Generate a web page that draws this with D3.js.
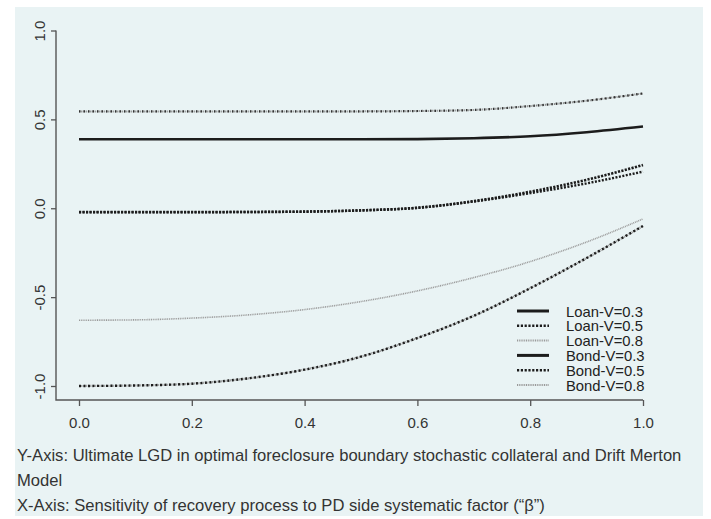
<!DOCTYPE html>
<html>
<head>
<meta charset="utf-8">
<script src="https://cdn.jsdelivr.net/npm/d3@7"></script>
<style>
  body { margin: 0; background: #fff; }
  svg { display: block; }
  text { font-family: "Liberation Sans", Arial, sans-serif; }
</style>
</head>
<body>
<svg id="chart"></svg>
<script>
// sensitivity beta on the x axis
const betas = [0, 0.1, 0.2, 0.3, 0.4, 0.5, 0.6, 0.7, 0.8, 0.9, 1.0];

const seriesNames = ['Loan-V=0.3', 'Loan-V=0.5', 'Loan-V=0.8', 'Bond-V=0.3', 'Bond-V=0.5', 'Bond-V=0.8'];

const loanV03 = [0.388, 0.388, 0.388, 0.388, 0.388, 0.388, 0.389, 0.394, 0.405, 0.428, 0.460];
const loanV05 = [-0.022, -0.022, -0.022, -0.021, -0.019, -0.012, 0.003, 0.040, 0.093, 0.160, 0.243];
const loanV08 = [-0.630, -0.628, -0.618, -0.600, -0.570, -0.525, -0.465, -0.390, -0.300, -0.190, -0.060];
const bondV03 = [-1.000, -0.997, -0.987, -0.957, -0.908, -0.835, -0.730, -0.605, -0.450, -0.280, -0.100];
const bondV05 = [-0.022, -0.022, -0.022, -0.021, -0.019, -0.012, 0.002, 0.038, 0.085, 0.140, 0.206];
const bondV08 = [0.545, 0.545, 0.545, 0.545, 0.545, 0.545, 0.547, 0.553, 0.575, 0.605, 0.646];

const xTicks = [0, 0.2, 0.4, 0.6, 0.8, 1.0];
const yTicks = [-1.0, -0.5, 0.0, 0.5, 1.0];

const captionLines = [
  'Y-Axis: Ultimate LGD in optimal foreclosure boundary stochastic collateral and Drift Merton',
  'Model',
  'X-Axis: Sensitivity of recovery process to PD side systematic factor (\u201c\u03b2\u201d)'
];

const values = [loanV03, loanV05, loanV08, bondV03, bondV05, bondV08];
const series = seriesNames.map((name, i) => ({
  name: name,
  points: betas.map((b, j) => ({x: b, y: values[i][j]}))
}));

// how each curve looks on the plot (some overlap in the original, giving a mixed dot look)
const curveStyle = {
  'Loan-V=0.3': [{stroke: '#1c1c1c', width: 2.6, dash: null}],
  'Loan-V=0.5': [{stroke: '#1c1c1c', width: 2.6, dash: '2.2,1.3'}],
  'Loan-V=0.8': [{stroke: '#9a9a9a', width: 1.6, dash: '1,0.8'}],
  'Bond-V=0.3': [{stroke: '#9a9a9a', width: 2.2, dash: '1,0.8'}, {stroke: '#1c1c1c', width: 2.4, dash: '2,2.5'}],
  'Bond-V=0.5': [{stroke: '#1c1c1c', width: 2.4, dash: '2,1.5'}],
  'Bond-V=0.8': [{stroke: '#8a8a8a', width: 2.0, dash: '1,0.8'}, {stroke: '#333', width: 2.2, dash: '1.5,3'}]
};
const legendStyle = {
  'Loan-V=0.3': {stroke: '#1c1c1c', width: 3, dash: null},
  'Loan-V=0.5': {stroke: '#1c1c1c', width: 2.6, dash: '2.2,1.6'},
  'Loan-V=0.8': {stroke: '#9a9a9a', width: 2, dash: '1,0.8'},
  'Bond-V=0.3': {stroke: '#1c1c1c', width: 3, dash: null},
  'Bond-V=0.5': {stroke: '#1c1c1c', width: 2.6, dash: '2.2,1.6'},
  'Bond-V=0.8': {stroke: '#9a9a9a', width: 2, dash: '1,0.8'}
};

let width = 711;
let height = 519;

let svg = d3.select('#chart')
  .attr('width', width)
  .attr('height', height);

svg.append('rect')
  .attr('x', 15).attr('y', 7)
  .attr('width', 688).attr('height', 509)
  .attr('fill', '#e9f3f4');

let x = d3.scaleLinear().domain([0, 1]).range([79, 643]);
let y = d3.scaleLinear().domain([-1, 1]).range([386, 30.5]);

let axisLeftX = 56;
let axisBottomY = 400;

// L-shaped frame
svg.append('path')
  .attr('d', `M${axisLeftX},${y(1)}V${axisBottomY}H${x(1)}`)
  .attr('fill', 'none')
  .attr('stroke', '#555')
  .attr('stroke-width', 1.4);

let gx = svg.append('g')
  .attr('transform', `translate(0,${axisBottomY})`)
  .call(d3.axisBottom(x).tickValues(xTicks).tickSize(6).tickPadding(11).tickFormat(d => d.toFixed(1)));
gx.select('.domain').remove();
gx.selectAll('line').attr('stroke', '#555').attr('stroke-width', 1.3);
gx.selectAll('text').attr('font-size', 15).attr('fill', '#333')
  .attr('font-family', '"Liberation Sans", Arial, sans-serif');

let gy = svg.append('g')
  .attr('transform', `translate(${axisLeftX},0)`)
  .call(d3.axisLeft(y).tickValues(yTicks).tickSize(5).tickFormat(d => d.toFixed(1)));
gy.select('.domain').remove();
gy.selectAll('line').attr('stroke', '#555').attr('stroke-width', 1.3);
gy.selectAll('text')
  .attr('font-size', 15).attr('fill', '#333')
  .attr('font-family', '"Liberation Sans", Arial, sans-serif')
  .attr('transform', 'rotate(-90)')
  .attr('x', 0).attr('y', -11).attr('dy', 0)
  .attr('text-anchor', 'middle');

let line = d3.line()
  .x(d => x(d.x))
  .y(d => y(d.y))
  .curve(d3.curveMonotoneX);

series.forEach(s => {
  curveStyle[s.name].forEach(st => {
    svg.append('path')
      .datum(s.points)
      .attr('d', line)
      .attr('fill', 'none')
      .attr('stroke', st.stroke)
      .attr('stroke-width', st.width)
      .attr('stroke-dasharray', st.dash);
  });
});

// legend
let legend = svg.append('g').attr('transform', 'translate(517,311)');
seriesNames.forEach((name, i) => {
  let st = legendStyle[name];
  let row = legend.append('g').attr('transform', `translate(0,${i * 14.8})`);
  row.append('line')
    .attr('x1', 0).attr('x2', 32)
    .attr('stroke', st.stroke)
    .attr('stroke-width', st.width)
    .attr('stroke-dasharray', st.dash);
  row.append('text')
    .attr('x', 49).attr('y', 5.5)
    .attr('font-size', 14.8)
    .attr('fill', '#222')
    .text(name);
});

// caption below the chart
svg.append('g').selectAll('text')
  .data(captionLines)
  .enter()
  .append('text')
  .attr('x', 17)
  .attr('y', (d, i) => 461 + i * 25)
  .attr('font-size', 16.6)
  .attr('fill', '#333')
  .text(d => d);
</script>
</body>
</html>
